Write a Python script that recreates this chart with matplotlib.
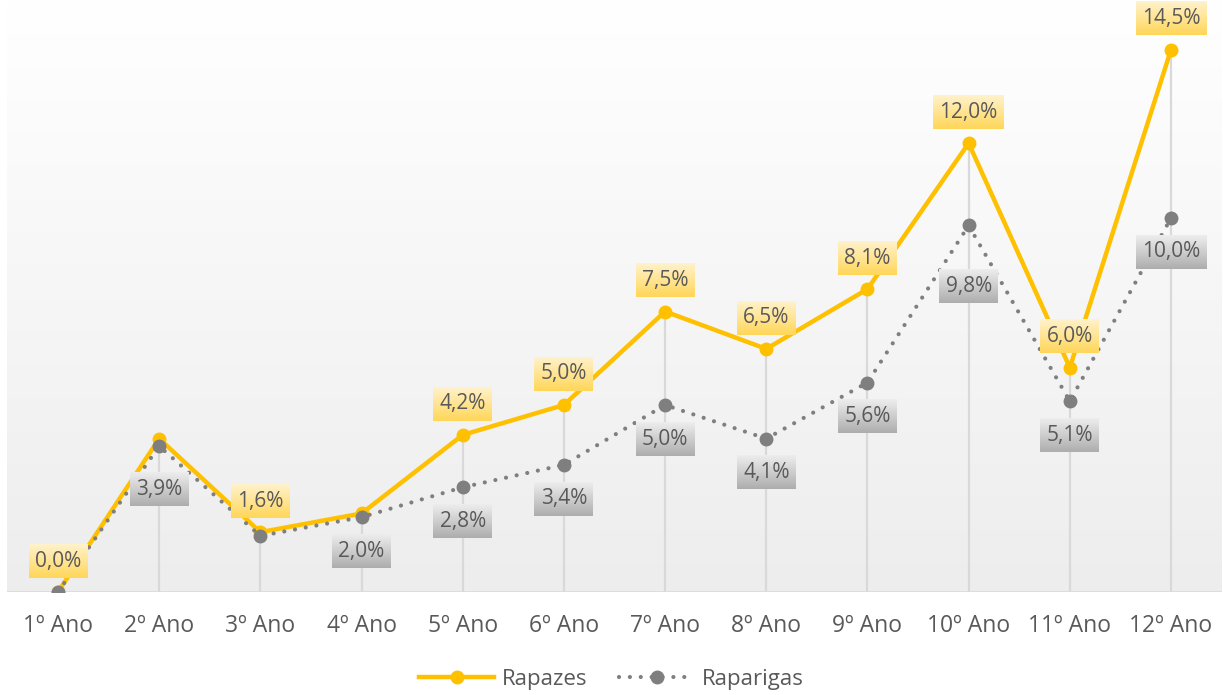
import matplotlib
matplotlib.use("Agg")
import matplotlib.pyplot as plt
import numpy as np

# --- Data ---
categories = ["1º Ano", "2º Ano", "3º Ano", "4º Ano", "5º Ano", "6º Ano",
              "7º Ano", "8º Ano", "9º Ano", "10º Ano", "11º Ano", "12º Ano"]
rapazes = [0.0, 4.1, 1.6, 2.1, 4.2, 5.0, 7.5, 6.5, 8.1, 12.0, 6.0, 14.5]
raparigas = [0.0, 3.9, 1.5, 2.0, 2.8, 3.4, 5.0, 4.1, 5.6, 9.8, 5.1, 10.0]
# which data labels are shown (Excel chart had some deleted)
show_rapazes = [True, False, True, False, True, True, True, True, True, True, True, True]
show_raparigas = [False, True, False, True, True, True, True, True, True, True, True, True]

YELLOW = "#FFC000"
GRAY = "#7F7F7F"
TXT = "#595959"

plt.rcParams["font.family"] = ["Open Sans", "DejaVu Sans"]

fig = plt.figure(figsize=(12.23, 6.95), dpi=100)
ax = fig.add_axes([7.4 / 1223, 103 / 695, 1214.2 / 1223, 592 / 695])
x = np.arange(len(categories))
ymax = 592 / 37.4
ax.set_xlim(-0.5, len(categories) - 0.5)
ax.set_ylim(0, ymax)

# background gradient of the plot area
grad = np.linspace(0, 1, 256).reshape(-1, 1)
bg = np.ones((256, 1, 3))
for i in range(3):
    bg[:, 0, i] = 1.0 - grad[:, 0] * (1.0 - 0.93)
ax.imshow(bg, extent=(-0.5, len(categories) - 0.5, 0, ymax), origin="upper",
          aspect="auto", zorder=0, interpolation="bilinear")

# drop lines
for xi, a, b in zip(x, rapazes, raparigas):
    ax.plot([xi, xi], [0, max(a, b)], color="#D9D9D9", lw=1.6, zorder=1)
ax.axhline(0, color="#D9D9D9", lw=1.8, zorder=1)

ax.plot(x, rapazes, color=YELLOW, lw=3.2, marker="o", ms=9, zorder=3,
        solid_joinstyle="round", label="Rapazes")
ax.plot(x, raparigas, color=GRAY, lw=3.0, linestyle=(0, (0.01, 2.6)),
        dash_capstyle="round", marker="o", ms=9, zorder=4, label="Raparigas")

for s in ax.spines.values():
    s.set_visible(False)
ax.set_yticks([])
ax.set_xticks(x)
ax.set_xticklabels(categories, fontsize=16.5, color=TXT)
ax.tick_params(axis="x", length=0, pad=16)

# data labels
labels = []
for xi, v, show in zip(x, rapazes, show_rapazes):
    if show:
        t = ax.annotate(f"{v:.1f}%".replace(".", ","), (xi, v), xytext=(0, 31),
                        textcoords="offset pixels", ha="center", va="center",
                        fontsize=15, color=TXT, zorder=6,
                        bbox=dict(boxstyle="square,pad=0.3", fc="none", ec="none"))
        labels.append((t, "y"))
for i, (xi, v, show) in enumerate(zip(x, raparigas, show_raparigas)):
    if show:
        off = -61 if i == 9 else (-43 if i == 1 else -34)
        t = ax.annotate(f"{v:.1f}%".replace(".", ","), (xi, v), xytext=(0, off),
                        textcoords="offset pixels", ha="center", va="center",
                        fontsize=15, color=TXT, zorder=6,
                        bbox=dict(boxstyle="square,pad=0.3", fc="none", ec="none"))
        labels.append((t, "g"))

fig.canvas.draw()
inv = ax.transData.inverted()
ygrad = np.zeros((64, 1, 3))
ggrad = np.zeros((64, 1, 3))
top_y, bot_y = np.array([1.0, 0.95, 0.80]), np.array([1.0, 0.84, 0.35])
top_g, bot_g = np.array([0.93, 0.93, 0.93]), np.array([0.68, 0.68, 0.68])
for k in range(64):
    f = k / 63
    ygrad[k, 0] = top_y * (1 - f) + bot_y * f
    ggrad[k, 0] = top_g * (1 - f) + bot_g * f
for t, kind in labels:
    bb = t.get_bbox_patch().get_window_extent()
    (x0, y0), (x1, y1) = inv.transform([[bb.x0, bb.y0], [bb.x1, bb.y1]])
    ax.imshow(ygrad if kind == "y" else ggrad, extent=(x0, x1, y0, y1),
              origin="upper", aspect="auto", zorder=5, interpolation="bilinear",
              clip_on=False)
ax.set_xlim(-0.5, len(categories) - 0.5)
ax.set_ylim(0, ymax)

leg = fig.legend(loc="center", bbox_to_anchor=(0.5, 16 / 695), ncol=2,
                 frameon=False, fontsize=16, handlelength=3.4, columnspacing=1.4,
                 handletextpad=0.35)
for txt in leg.get_texts():
    txt.set_color(TXT)

fig.savefig("out.png", dpi=100)
